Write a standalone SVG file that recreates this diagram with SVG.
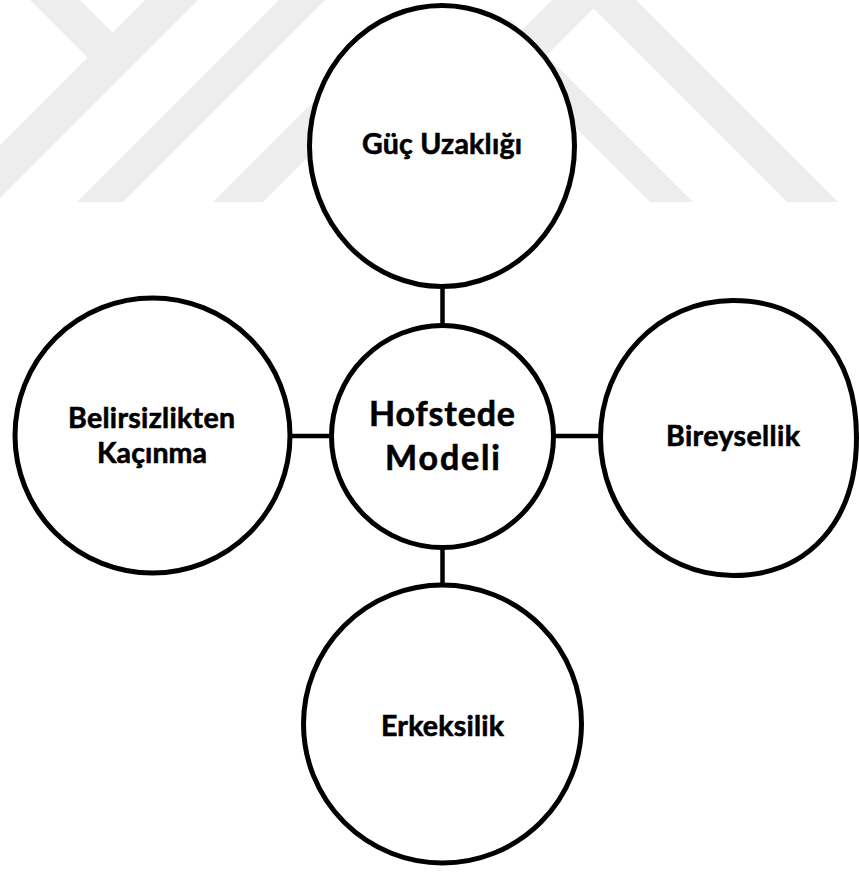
<svg xmlns="http://www.w3.org/2000/svg" width="859" height="872" viewBox="0 0 859 872">
  <style>
    .mark { fill: #ededed; }
    .node { fill: #ffffff; stroke: #000000; stroke-width: 5; }
    .link { stroke: #000000; stroke-width: 4.5; fill: none; }
    .label { font-family: Lato, "Open Sans", "Liberation Sans", sans-serif; font-weight: 700; fill: #000000; stroke: #000000; stroke-width: 0.6; text-anchor: middle; }
    .small { font-size: 28.5px; }
    .big { font-size: 34px; }
  </style>
  <defs>
    <clipPath id="markClip">
      <rect x="0" y="0" width="859" height="202"/>
    </clipPath>
  </defs>

  <rect x="0" y="0" width="859" height="872" fill="#ffffff"/>

  <!-- light grey background emblem -->
  <g id="emblem" clip-path="url(#markClip)">
    <polygon class="mark" points="20,-10 70,-10 125,45 100,70"/>
    <polygon class="mark" points="155,-10 208,-10 -10,208 -10,155"/>
    <polygon class="mark" points="289,-10 335,-10 -10,335 -10,289"/>
    <polygon class="mark" points="395,20 445,20 223,242 173,242"/>
    <polygon class="mark" points="468,20 511,20 733,242 690,242"/>
    <polygon class="mark" points="594,-42 858,222 807,222 593.5,8.5 536,66 511,41"/>
  </g>

  <!-- connectors -->
  <g id="connectors">
    <line class="link" x1="442.5" y1="287" x2="442.5" y2="325"/>
    <line class="link" x1="442.5" y1="548" x2="442.5" y2="584"/>
    <line class="link" x1="288" y1="436" x2="332" y2="436"/>
    <line class="link" x1="553" y1="436" x2="601" y2="436"/>
  </g>

  <g id="node-guc-uzakligi">
    <ellipse class="node" cx="442" cy="146" rx="132.5" ry="140.5"/>
    <text class="label small" x="442" y="154" textLength="160">Güç Uzaklığı</text>
  </g>

  <g id="node-hofstede">
    <circle class="node" cx="442.5" cy="436.5" r="111"/>
    <text class="label big" x="442" y="425.5" textLength="146">Hofstede</text>
    <text class="label big" x="442.5" y="470" textLength="115">Modeli</text>
  </g>

  <g id="node-belirsizlik">
    <circle class="node" cx="152.5" cy="435.5" r="137.5"/>
    <text class="label small" x="151.5" y="428" textLength="167">Belirsizlikten</text>
    <text class="label small" x="152" y="463" textLength="110">Kaçınma</text>
  </g>

  <g id="node-bireysellik">
    <path class="node" d="M600.5,437.5 C600.5,361.8 658.9,300.5 733,300.5 C808,300.5 856.5,353 856.5,437.5 C856.5,522 808,575.5 733,575.5 C658.9,575.5 600.5,513.2 600.5,437.5 Z"/>
    <text class="label small" x="733" y="446" textLength="134">Bireysellik</text>
  </g>

  <g id="node-erkeksilik">
    <circle class="node" cx="442.5" cy="724" r="139"/>
    <text class="label small" x="442.5" y="735.5" textLength="123">Erkeksilik</text>
  </g>
</svg>
